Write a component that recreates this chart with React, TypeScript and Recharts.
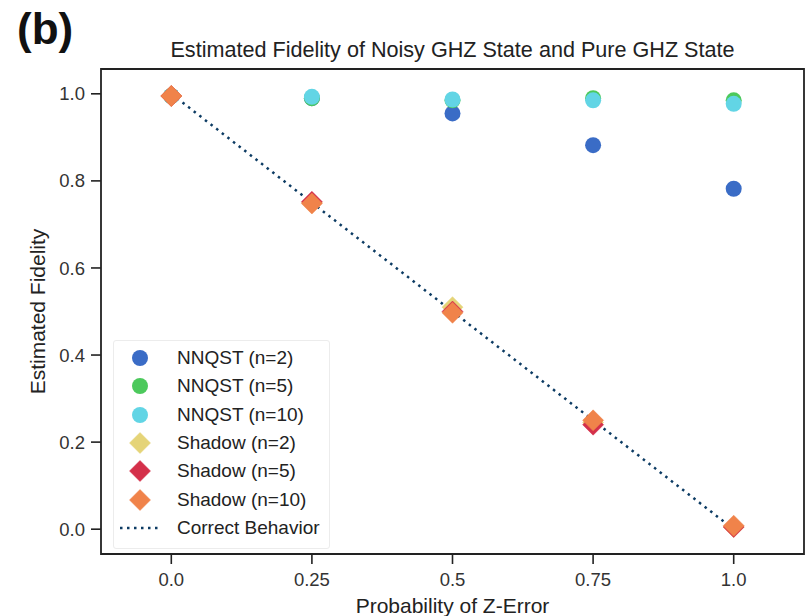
import React from 'react';
import { ScatterChart, Scatter, XAxis, YAxis, ReferenceArea, Label } from 'recharts';

// probability of Z-error on the x axis
const xValues = [0, 0.25, 0.5, 0.75, 1.0];

// estimated fidelities
const nnqstN2 = [0.995, 0.99, 0.955, 0.882, 0.782];
const nnqstN5 = [0.995, 0.99, 0.985, 0.99, 0.985];
const nnqstN10 = [0.995, 0.993, 0.987, 0.985, 0.977];
const shadowN2 = [0.995, 0.75, 0.51, 0.245, 0.005];
const shadowN5 = [0.995, 0.752, 0.5, 0.24, 0.005];
const shadowN10 = [0.995, 0.748, 0.497, 0.25, 0.008];
const correctBehavior = [
  { x: 0, y: 1 },
  { x: 1, y: 0 },
];

const xTicks = [0, 0.25, 0.5, 0.75, 1.0];
const xTickLabels = ['0.0', '0.25', '0.5', '0.75', '1.0'];
const yTicks = [0, 0.2, 0.4, 0.6, 0.8, 1.0];
const yTickLabels = ['0.0', '0.2', '0.4', '0.6', '0.8', '1.0'];

const xDomain: [number, number] = [-0.125, 1.125];
const yDomain: [number, number] = [-0.057, 1.057];

const FONT = '"Liberation Sans", Arial, sans-serif';
const LINE_COLOR = '#0c3b63';

const toPoints = (ys: number[]) => xValues.map((x, i) => ({ x, y: ys[i] }));

const series = [
  { name: 'NNQST (n=2)', values: nnqstN2, color: '#3a6cc6', marker: 'circle' },
  { name: 'NNQST (n=5)', values: nnqstN5, color: '#4cc95c', marker: 'circle' },
  { name: 'NNQST (n=10)', values: nnqstN10, color: '#62d5e5', marker: 'circle' },
  { name: 'Shadow (n=2)', values: shadowN2, color: '#e5d478', marker: 'diamond' },
  { name: 'Shadow (n=5)', values: shadowN5, color: '#d4304a', marker: 'diamond' },
  { name: 'Shadow (n=10)', values: shadowN10, color: '#f0834a', marker: 'diamond' },
];

const Marker = ({ cx, cy, color, marker }: { cx: number; cy: number; color: string; marker: string }) => {
  if (marker === 'circle') {
    return <circle cx={cx} cy={cy} r={8} fill={color} />;
  }
  const h = 10.5;
  return (
    <polygon
      points={`${cx},${cy - h} ${cx + h},${cy} ${cx},${cy + h} ${cx - h},${cy}`}
      fill={color}
      stroke={color}
      strokeWidth={0.5}
    />
  );
};

const LegendBox = () => (
  <div
    style={{
      position: 'absolute',
      left: 113,
      top: 340,
      width: 217,
      height: 209,
      border: '1px solid #ececec',
      borderRadius: 3,
      background: 'rgba(255,255,255,0.85)',
      fontFamily: FONT,
      fontSize: 19,
      color: '#222',
      boxSizing: 'border-box',
      paddingTop: 3,
    }}
  >
    {series.map((s) => (
      <div key={s.name} style={{ height: 28.3, display: 'flex', alignItems: 'center' }}>
        <svg width={56} height={28} style={{ flex: 'none' }}>
          <Marker cx={26} cy={14} color={s.color} marker={s.marker} />
        </svg>
        <span style={{ marginLeft: 7 }}>{s.name}</span>
      </div>
    ))}
    <div style={{ height: 28.3, display: 'flex', alignItems: 'center' }}>
      <svg width={56} height={28} style={{ flex: 'none' }}>
        <line x1={6} y1={14} x2={45} y2={14} stroke={LINE_COLOR} strokeWidth={2.5} strokeDasharray="2.5 4.5" />
      </svg>
      <span style={{ marginLeft: 7 }}>Correct Behavior</span>
    </div>
  </div>
);

export default function App() {
  return (
    <div style={{ position: 'absolute', left: 0, top: 0, width: 810, height: 616, background: '#fff' }}>
      <div
        style={{
          position: 'absolute',
          left: 17,
          top: 4,
          fontFamily: FONT,
          fontWeight: 'bold',
          fontSize: 44,
          color: '#111',
        }}
      >
        (b)
      </div>
      <div
        style={{
          position: 'absolute',
          left: 101,
          width: 703,
          top: 37,
          textAlign: 'center',
          fontFamily: FONT,
          fontSize: 21.6,
          color: '#222',
        }}
      >
        Estimated Fidelity of Noisy GHZ State and Pure GHZ State
      </div>
      <ScatterChart width={810} height={616} margin={{ top: 69, right: 6, bottom: 0, left: 0 }}>
        <XAxis
          type="number"
          dataKey="x"
          domain={xDomain}
          allowDataOverflow
          ticks={xTicks}
          tickFormatter={(v: number) => xTickLabels[xTicks.indexOf(v)] ?? String(v)}
          height={62}
          axisLine={false}
          tickLine={{ stroke: '#222', strokeWidth: 1.6 }}
          tickSize={10}
          tickMargin={9}
          tick={{ fill: '#333', fontSize: 18.5, fontFamily: FONT }}
        >
          <Label
            value="Probability of Z-Error"
            position="insideBottom"
            offset={3}
            style={{ fill: '#222', fontSize: 21, fontFamily: FONT }}
          />
        </XAxis>
        <YAxis
          type="number"
          dataKey="y"
          domain={yDomain}
          allowDataOverflow
          ticks={yTicks}
          tickFormatter={(v: number) => yTickLabels[yTicks.indexOf(v)] ?? String(v)}
          width={101}
          axisLine={false}
          tickLine={{ stroke: '#222', strokeWidth: 1.6 }}
          tickSize={10}
          tickMargin={6}
          tick={{ fill: '#333', fontSize: 18.5, fontFamily: FONT }}
        >
          <Label
            content={(props: any) => {
              const vb = props.viewBox || { x: 0, y: 69, width: 101, height: 485 };
              const cx = vb.x + 37;
              const cy = vb.y + vb.height / 2;
              return (
                <text
                  x={cx}
                  y={cy}
                  transform={`rotate(-90, ${cx}, ${cy})`}
                  textAnchor="middle"
                  dominantBaseline="central"
                  fill="#222"
                  fontSize={21}
                  fontFamily={FONT}
                >
                  Estimated Fidelity
                </text>
              );
            }}
          />
        </YAxis>
        <ReferenceArea
          x1={xDomain[0]}
          x2={xDomain[1]}
          y1={yDomain[0]}
          y2={yDomain[1]}
          fill="none"
          stroke="#222"
          strokeWidth={1.8}
          ifOverflow="visible"
        />
        <Scatter
          name="Correct Behavior"
          data={correctBehavior}
          line={{ stroke: LINE_COLOR, strokeWidth: 2.5, strokeDasharray: '2.5 4.6' }}
          shape={() => <g />}
          isAnimationActive={false}
        />
        {series.map((s) => (
          <Scatter
            key={s.name}
            name={s.name}
            data={toPoints(s.values)}
            fill={s.color}
            shape={(p: any) => <Marker cx={p.cx} cy={p.cy} color={s.color} marker={s.marker} />}
            isAnimationActive={false}
          />
        ))}
      </ScatterChart>
      <LegendBox />
    </div>
  );
}
